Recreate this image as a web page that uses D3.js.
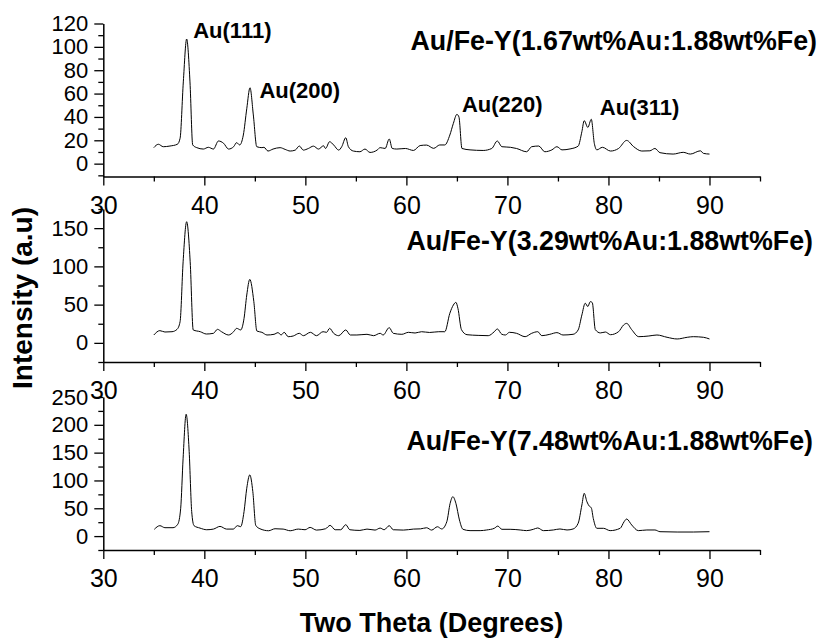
<!DOCTYPE html>
<html>
<head>
<meta charset="utf-8">
<script src="https://cdn.jsdelivr.net/npm/d3@7"></script>
<style>
  html, body { margin: 0; padding: 0; background: #fff; }
  svg { display: block; }
  text { font-family: "Liberation Sans", Arial, sans-serif; fill: #000; }
</style>
</head>
<body>
<svg id="chart" width="819" height="638"></svg>
<script>
// ---------- DATA ----------
const sampleLabels = [
  "Au/Fe-Y(1.67wt%Au:1.88wt%Fe)",
  "Au/Fe-Y(3.29wt%Au:1.88wt%Fe)",
  "Au/Fe-Y(7.48wt%Au:1.88wt%Fe)"
];
const peakLabels = ["Au(111)", "Au(200)", "Au(220)", "Au(311)"];
const xTickLabels = [30, 40, 50, 60, 70, 80, 90];
const xMinorTicks = [35, 45, 55, 65, 75, 85, 95];
const xTitle = "Two Theta (Degrees)";
const yTitle = "Intensity (a.u)";

// two theta, intensity  (sample 1: 1.67 wt% Au)
const theta1 = [35.0,35.45,35.94,36.6,37.33,37.6,37.92,38.25,38.58,38.85,39.25,39.9,40.4,40.9,41.4,41.9,42.4,42.9,43.2,43.5,43.86,44.2,44.52,44.85,45.19,45.7,45.9,46.3,46.8,47.5,48.0,48.5,49.0,49.4,49.8,50.3,50.8,51.3,51.8,52.0,52.4,52.8,53.3,53.6,54.0,54.26,54.75,55.4,55.9,56.4,57.1,57.4,57.9,58.3,58.6,59.05,59.9,60.7,61.36,62.0,62.7,63.3,63.8,64.3,64.65,65.0,65.2,65.5,66.3,67.6,68.45,69.0,69.45,70.3,70.9,71.9,72.4,73.1,73.7,74.4,74.9,75.4,76.2,77.0,77.37,77.6,77.96,78.3,78.6,78.85,79.4,80.2,81.0,81.8,82.5,83.3,84.1,84.6,85.1,86.4,87.4,88.1,89.1,89.4,90.0];
const int1   = [13.7,16.6,14.5,15.1,16.6,21.7,70,106.7,70,16,13.7,12.5,14,12.5,19.4,17.5,12.5,14.5,18,16,24.5,47,65,41.7,14.5,13.7,14,10.8,12.5,13.7,12.2,10.8,11.6,15.1,11.6,13,15,12.5,15.3,13,18.8,16,11.6,14.5,22.2,14.5,10.8,10.2,12.5,9.6,11.6,13.7,13,21.1,13,12.5,13,11.3,15.5,15.9,13.1,16,16,24.5,34.5,42.2,40,13,11.8,11.3,13,19.4,14.5,14,13,10.2,14.5,15.1,10.2,11.8,14.5,11.8,12.6,15,27.4,36.8,31,38,17.4,11.8,14,10.8,13,19.9,14.5,10.8,11,13,9.4,8.2,9.7,8.2,11,8.8,8.2];

// sample 2: 3.29 wt% Au
const theta2 = [35.0,35.6,36.1,36.8,37.3,37.6,37.9,38.25,38.6,38.9,39.6,40.2,40.9,41.3,41.7,42.4,42.9,43.2,43.6,43.93,44.2,44.5,44.9,45.2,45.7,46.2,46.9,47.3,47.6,47.9,48.3,48.8,49.4,49.8,50.5,51.1,51.75,52.1,52.4,52.8,53.3,54.0,54.45,55.1,56.1,56.75,57.4,57.7,58.3,58.7,59.55,60.2,60.86,61.5,62.3,63.2,63.8,64.3,64.65,64.9,65.1,65.45,66.0,67.1,68.1,68.7,69.0,69.45,69.8,70.2,70.9,71.75,72.4,73.0,73.4,74.2,74.9,75.5,76.5,77.0,77.37,77.7,77.96,78.2,78.4,78.7,79.2,79.7,80.2,81.0,81.5,81.8,82.3,83.0,84.0,84.8,85.8,86.8,87.8,88.4,89.4,90.0];
const int2   = [10.3,16,14.2,14.6,17.7,27.7,106,158.4,106,16.9,14.6,11.6,12.5,17.7,14.6,10.3,14.6,19,16.9,32,62.6,83,53.9,15.5,13.8,10.3,11.2,13.4,10.3,13.8,8.1,9,12.5,9.4,13.8,9.4,14.6,13.8,19,12.5,9.4,16.9,10.3,10.3,11.2,9.4,12.5,10.3,19.9,12.5,11.2,13.8,12.9,14.6,13.6,14.6,14.6,38.7,49.5,53,45.2,17.3,10.7,9.8,9.4,14.6,18.2,11.2,10.3,13.8,12.5,8.1,12.5,14.6,9.4,11.2,13.4,10.3,11.2,16.9,36.5,51.8,47.5,53.9,52.6,17.3,13,14.2,10.7,14.6,23.4,25.5,17.3,8.1,9,10.3,7.3,5.1,7.3,8.1,7.3,5.1];

// sample 3: 7.48 wt% Au
const theta3 = [35.05,35.6,36.1,36.9,37.37,37.66,37.9,38.2,38.5,38.75,38.98,39.57,40.24,40.9,41.55,42.2,42.87,43.27,43.6,43.93,44.2,44.5,44.8,45.09,45.5,46.36,47.0,47.8,48.5,49.3,49.97,50.47,51.1,52.0,52.45,52.95,53.5,54.0,54.4,55.4,56.1,56.9,57.4,57.8,58.3,58.7,59.7,60.7,61.4,62.0,62.5,63.07,63.5,64.0,64.33,64.6,64.9,65.25,65.6,66.3,67.3,67.95,68.7,69.05,69.45,70.27,71.26,71.9,72.57,73.0,73.56,74.55,75.2,75.9,76.5,77.0,77.37,77.6,77.87,78.1,78.3,78.5,78.85,79.5,80.17,81.16,81.55,81.8,82.3,82.96,83.8,84.6,85.1,86.8,88.4,90.0];
const int3   = [12.2,18.7,15.1,15.1,21.2,50,140,219,152,44,18.7,14.4,11.4,12.6,17.4,12.6,12.6,18.7,17,44,86,110,80,19.3,13.2,9.6,13.2,12.6,9.6,12.6,11.4,15.6,10.8,13.2,19.3,11.4,11.4,20.5,11.4,10.2,12.6,10.8,14.4,11.4,18.7,11.4,10.8,12.6,13,15,10.8,16.8,12.8,25.9,58.9,70.8,58.9,29,12.2,9.8,9.8,11,14,18,12.2,12.2,11,9.8,12.2,14.6,9.8,11,12.8,11,12.8,23,55.9,76.9,61.7,53.9,50.9,31.7,14,14,9.8,14,25.9,30.7,20,9.8,11,11,7.9,7.3,7.3,7.9];

// y axis set-up per panel (domain, labelled ticks, minor ticks)
const yDomains = [[-11, 120], [-25, 175], [-25, 250]];
const yMajor = [[0, 20, 40, 60, 80, 100, 120], [0, 50, 100, 150], [0, 50, 100, 150, 200, 250]];
const yMinor = [[-10, 10, 30, 50, 70, 90, 110], [-25, 25, 75, 125, 175], [-25, 25, 75, 125, 175, 225]];

// peak label anchors in (two theta, intensity) of panel 1
const peakPos = [[38.9, 108], [45.45, 56], [65.5, 44.2], [79.15, 42]];

// ---------- LAYOUT ----------
const svg = d3.select("#chart");
const left = 103.3, right = 760;
const panelTops = [23.5, 209, 397];
const panelH = 153;
const titleX = [817, 813, 813];
const titleY = [49.5, 250, 450];

const x = d3.scaleLinear().domain([30, 95]).range([left, right]);

const series = [
  theta1.map((t, i) => [t, int1[i]]),
  theta2.map((t, i) => [t, int2[i]]),
  theta3.map((t, i) => [t, int3[i]])
];

const yScales = [];
series.forEach((data, p) => {
  const top = panelTops[p], bottom = top + panelH;
  const y = d3.scaleLinear().domain(yDomains[p]).range([bottom, top]);
  yScales.push(y);
  const g = svg.append("g");

  // y minor ticks
  g.append("g").attr("transform", `translate(${left},0)`)
    .call(d3.axisLeft(y).tickValues(yMinor[p]).tickSize(5).tickSizeOuter(0).tickFormat(""))
    .call(s => s.select(".domain").remove())
    .call(s => s.selectAll("line").attr("stroke", "#000").attr("stroke-width", 1.3));
  // y major
  g.append("g").attr("transform", `translate(${left},0)`)
    .call(d3.axisLeft(y).tickValues(yMajor[p]).tickSize(9).tickSizeOuter(0).tickPadding(6).tickFormat(d3.format("d")))
    .call(s => s.select(".domain").attr("stroke", "#000").attr("stroke-width", 1.5))
    .call(s => s.selectAll("line").attr("stroke", "#000").attr("stroke-width", 1.3))
    .call(s => s.selectAll("text").attr("font-size", 22).attr("font-family", "Liberation Sans, Arial, sans-serif").attr("fill", "#000"));

  // x minor
  g.append("g").attr("transform", `translate(0,${bottom})`)
    .call(d3.axisBottom(x).tickValues(xMinorTicks).tickSize(5).tickSizeOuter(0).tickFormat(""))
    .call(s => s.select(".domain").remove())
    .call(s => s.selectAll("line").attr("stroke", "#000").attr("stroke-width", 1.3));
  // x major
  g.append("g").attr("transform", `translate(0,${bottom})`)
    .call(d3.axisBottom(x).tickValues(xTickLabels).tickSize(9).tickSizeOuter(0).tickFormat(d3.format("d")))
    .call(s => s.select(".domain").attr("stroke", "#000").attr("stroke-width", 1.5))
    .call(s => s.selectAll("line").attr("stroke", "#000").attr("stroke-width", 1.3))
    .call(s => s.selectAll("text").attr("font-size", 25).attr("dy", null).attr("y", 37)
      .attr("font-family", "Liberation Sans, Arial, sans-serif").attr("fill", "#000"));

  // trace
  g.append("path").datum(data)
    .attr("fill", "none").attr("stroke", "#000").attr("stroke-width", 1)
    .attr("stroke-linejoin", "round")
    .attr("d", d3.line().curve(d3.curveMonotoneX).x(d => x(d[0])).y(d => y(d[1])));

  // sample label
  svg.append("text").attr("x", titleX[p]).attr("y", titleY[p])
    .attr("text-anchor", "end").attr("font-size", 26.8).attr("font-weight", "bold")
    .text(sampleLabels[p]);
});

// peak labels (panel 1)
peakLabels.forEach((lab, i) => {
  svg.append("text")
    .attr("x", x(peakPos[i][0])).attr("y", yScales[0](peakPos[i][1]))
    .attr("font-size", 22).attr("font-weight", "bold")
    .text(lab);
});

// axis titles
svg.append("text").attr("x", 431.5).attr("y", 631.5)
  .attr("text-anchor", "middle").attr("font-size", 27).attr("font-weight", "bold")
  .text(xTitle);
svg.append("text").attr("transform", "translate(32,298) rotate(-90)")
  .attr("text-anchor", "middle").attr("font-size", 28).attr("font-weight", "bold")
  .text(yTitle);
</script>
</body>
</html>
